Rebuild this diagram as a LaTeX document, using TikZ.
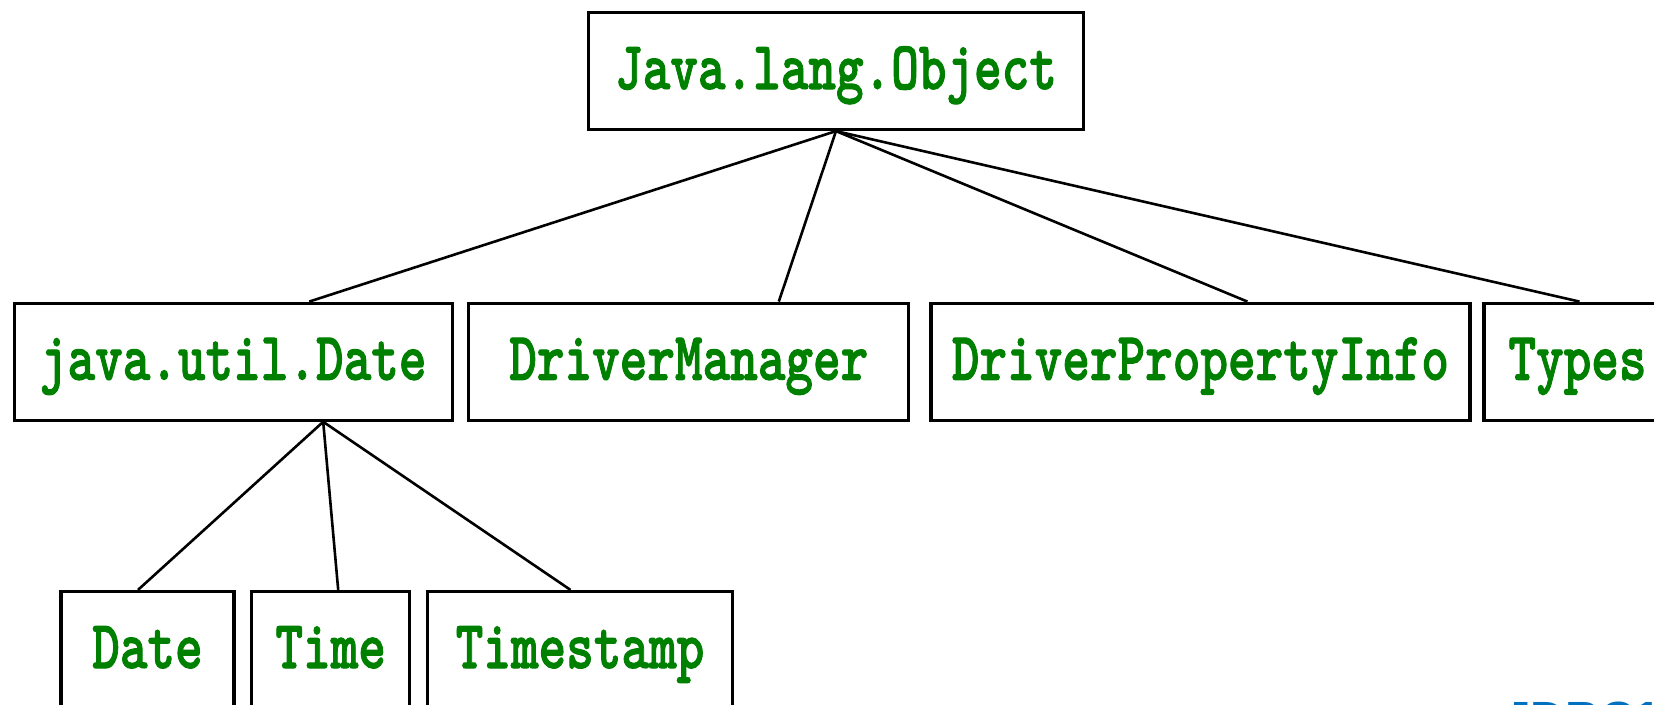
\documentclass[tikz,border=0pt]{standalone}
\usepackage{fontspec}
\usetikzlibrary{calc}
\definecolor{labelgreen}{RGB}{0,128,0}
\definecolor{titleblue}{RGB}{0,112,192}
\newfontfamily\bannerfont{Liberation Sans}
\newfontfamily\codefont{lmmonolt10-bold.otf}[FakeBold=1.6]
% class names: heavy typewriter, stretched vertically
\newcommand\classname[1]{\scalebox{1}[1.3]{\codefont\fontsize{52.6}{60}\selectfont #1}}
\tikzset{
  classbox/.style={draw=black, line width=3.2pt, fill=white, inner sep=0pt,
    minimum height=117pt, text=labelgreen, text height=40pt, text depth=4pt},
  link/.style={draw=black, line width=2.6pt}
}
\begin{document}
\begin{tikzpicture}[x=1pt,y=-1pt]
\useasboundingbox (0,0) rectangle (1654,704);
\fill[white] (0,0) rectangle (1654,704);
\clip (0,0) rectangle (1654,704);

% root
\node[classbox, minimum width=495pt] (obj) at (836,71) {\classname{Java.lang.Object}};

% second level
\node[classbox, minimum width=438pt] (jud) at (233.2,361.7) {\classname{java.util.Date}};
\node[classbox, minimum width=440pt] (dm) at (688.8,361.7) {\classname{DriverManager}};
\node[classbox, minimum width=539pt] (dpi) at (1200.4,361.7) {\classname{DriverPropertyInfo}};
\node[classbox, minimum width=187pt] (types) at (1577.5,361.7) {\classname{Types}};

% third level
\node[classbox, minimum width=173pt] (date) at (147.5,650) {\classname{Date}};
\node[classbox, minimum width=158pt] (time) at (330.7,650) {\classname{Time}};
\node[classbox, minimum width=305pt] (ts) at (580,650) {\classname{Timestamp}};

% connectors
\draw[link] (obj.south) -- ($(jud.north)+(76,0)$);
\draw[link] (obj.south) -- ($(dm.north)+(90,0)$);
\draw[link] (obj.south) -- ($(dpi.north)+(47,0)$);
\draw[link] (obj.south) -- ($(types.north)+(2,0)$);
\draw[link] ($(jud.south)+(90,0)$) -- ($(date.north)+(-9.5,0)$);
\draw[link] ($(jud.south)+(90,0)$) -- ($(time.north)+(7.5,0)$);
\draw[link] ($(jud.south)+(90,0)$) -- ($(ts.north)+(-9.5,0)$);

% slide title, cut by the lower edge
\node[font=\bannerfont\bfseries\fontsize{48}{56}\selectfont, text=titleblue,
  anchor=base west, inner sep=0pt] (banner) at (1504,735) {JDBC1};
\end{tikzpicture}
\end{document}
